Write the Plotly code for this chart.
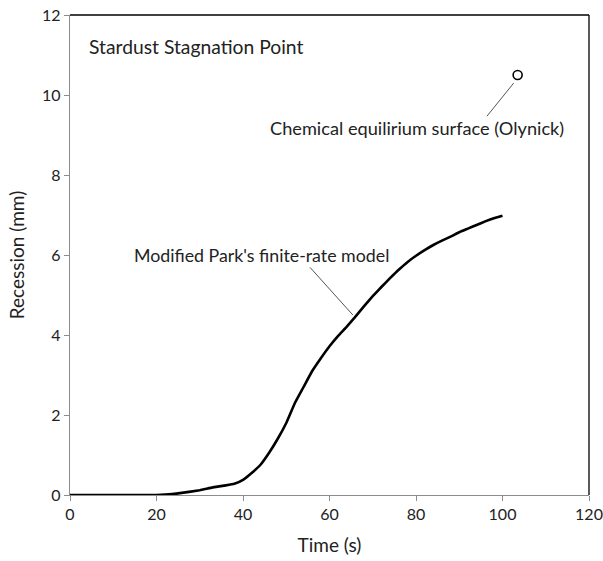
import plotly.graph_objects as go

# Recession history at the Stardust stagnation point (modified Park finite-rate model)
time_s = [0, 10, 20, 22, 25, 30, 33, 36, 38, 40, 42, 44, 46, 48, 50, 52, 54, 56, 58,
          60, 62, 64, 66, 68, 70, 72, 74, 76, 78, 80, 82, 84, 86, 88, 90, 92, 94, 96,
          98, 100]
recession_mm = [0, 0, 0, 0.01, 0.04, 0.12, 0.19, 0.24, 0.28, 0.38, 0.55, 0.75, 1.05,
                1.4, 1.8, 2.3, 2.7, 3.1, 3.42, 3.72, 3.98, 4.21, 4.46, 4.72, 4.97, 5.2,
                5.42, 5.63, 5.82, 5.98, 6.12, 6.25, 6.36, 6.46, 6.57, 6.66, 6.75, 6.84,
                6.92, 6.98]

# Chemical-equilibrium surface result (Olynick)
olynick_t = [103.5]
olynick_r = [10.5]

x_ticks = [0, 20, 40, 60, 80, 100, 120]
y_ticks = [0, 2, 4, 6, 8, 10, 12]

FONT = "Lato"
TXT = "#222222"
AXIS_GRAY = "#8c8c8c"

fig = go.Figure()
fig.add_trace(go.Scatter(x=time_s, y=recession_mm, mode="lines",
                         line=dict(color="black", width=2.6, shape="spline", smoothing=0.3),
                         showlegend=False, hoverinfo="skip"))
fig.add_trace(go.Scatter(x=olynick_t, y=olynick_r, mode="markers",
                         marker=dict(symbol="circle-open", size=9, color="black",
                                     line=dict(width=1.6, color="black")),
                         showlegend=False, hoverinfo="skip"))

# leader lines for the labels
fig.add_shape(type="line", x0=96.4, y0=9.47, x1=102.6, y1=10.3,
              line=dict(color="#555555", width=1))
fig.add_shape(type="line", x0=55.5, y0=5.69, x1=65.4, y1=4.5,
              line=dict(color="#555555", width=1))

# top and right frame edges
fig.add_shape(type="line", xref="x domain", yref="y domain", x0=0, x1=1, y0=1, y1=1,
              line=dict(color="black", width=1.3))
fig.add_shape(type="line", xref="x domain", yref="y domain", x0=1, x1=1, y0=0, y1=1,
              line=dict(color="black", width=1.3))

fig.add_annotation(text="Stardust Stagnation Point", xref="paper", yref="paper",
                   x=0.033, y=0.935, xanchor="left", yanchor="middle", showarrow=False,
                   font=dict(family=FONT, size=19.3, color=TXT))
fig.add_annotation(text="Chemical equilirium surface (Olynick)", x=80.2, y=9.17,
                   xanchor="center", yanchor="middle", showarrow=False,
                   font=dict(family=FONT, size=18.2, color=TXT))
fig.add_annotation(text="Modified Park's finite-rate model", x=44.2, y=6.0,
                   xanchor="center", yanchor="middle", showarrow=False,
                   font=dict(family=FONT, size=17.8, color=TXT))

fig.update_xaxes(range=[0, 120], tickvals=x_ticks, ticks="outside", ticklen=5,
                 tickcolor=AXIS_GRAY, showline=True, linecolor=AXIS_GRAY, linewidth=1.3,
                 showgrid=False, zeroline=False, automargin=False,
                 tickfont=dict(family=FONT, size=16, color=TXT),
                 title=dict(text="Time (s)", font=dict(family=FONT, size=19, color=TXT),
                            standoff=16))
fig.update_yaxes(range=[0, 12], tickvals=y_ticks, ticks="outside", ticklen=5,
                 tickcolor=AXIS_GRAY, showline=True, linecolor=AXIS_GRAY, linewidth=1.3,
                 showgrid=False, zeroline=False, automargin=False,
                 tickfont=dict(family=FONT, size=16, color=TXT),
                 title=dict(text="Recession (mm)", font=dict(family=FONT, size=19, color=TXT),
                            standoff=12))

fig.update_layout(width=603, height=561, margin=dict(l=70, r=14, t=15, b=66),
                  plot_bgcolor="white", paper_bgcolor="white")

fig.write_html("out.html")
